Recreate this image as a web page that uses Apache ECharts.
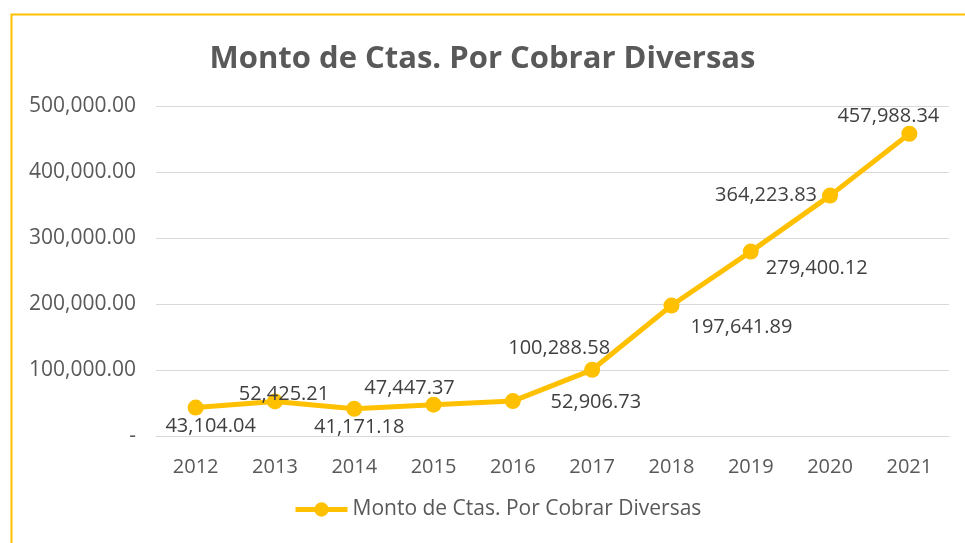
<!DOCTYPE html>
<html>
<head>
<meta charset="utf-8">
<script src="https://cdn.jsdelivr.net/npm/echarts@6/dist/echarts.min.js"></script>
<style>
    html, body { margin: 0; padding: 0; background: #fff; }
    #chart { width: 965px; height: 543px; }
</style>
</head>
<body>
<div id="chart"></div>
<script>
// data
const years = ['2012', '2013', '2014', '2015', '2016', '2017', '2018', '2019', '2020', '2021'];
const montos = [43104.04, 52425.21, 41171.18, 47447.37, 52906.73, 100288.58, 197641.89, 279400.12, 364223.83, 457988.34];
const seriesName = 'Monto de Ctas. Por Cobrar Diversas';

// where each value label sits relative to its point (Excel placed them by hand)
const labelOffsets = [[15, 19], [9, -7], [5, 18], [-24, -16], [83, 1], [-33, -22], [70, 22], [66, 17], [-64, 0], [-21, -17]];

const fmt = v => v.toLocaleString('en-US', { minimumFractionDigits: 2, maximumFractionDigits: 2 });
const FONT = 'Open Sans';

var myChart = echarts.init(document.getElementById('chart'));

myChart.setOption({
    animation: false,
    textStyle: { fontFamily: FONT },
    title: {
        text: seriesName,
        left: 'center',
        top: 39,
        textStyle: { fontSize: 31, fontWeight: 'bold', color: '#595959', fontFamily: FONT }
    },
    graphic: [{
        type: 'rect',
        left: 9, top: 12,
        shape: { width: 1000, height: 600 },
        style: { fill: 'none', stroke: '#FFC000', lineWidth: 2 },
        silent: true
    }],
    legend: {
        bottom: 18,
        left: 288,
        itemWidth: 52,
        itemHeight: 18,
        itemGap: 7,
        lineStyle: { width: 5 },
        textStyle: { fontSize: 21, color: '#595959', fontFamily: FONT },
        data: [seriesName]
    },
    grid: { left: 156, top: 106, width: 793, height: 330 },
    xAxis: {
        type: 'category',
        data: years,
        axisLine: { lineStyle: { color: '#d9d9d9', width: 1 } },
        axisTick: { show: false },
        axisLabel: { fontSize: 20, color: '#595959', margin: 21 }
    },
    yAxis: {
        type: 'value',
        min: 0, max: 500000, interval: 100000,
        axisLine: { show: false },
        axisTick: { show: false },
        splitLine: { lineStyle: { color: '#d9d9d9', width: 1 } },
        axisLabel: {
            fontSize: 21, color: '#595959', margin: 20,
            formatter: v => v === 0 ? '-' : fmt(v)
        }
    },
    series: [{
        name: seriesName,
        type: 'line',
        data: montos.map((v, i) => ({
            value: v,
            label: { offset: labelOffsets[i] }
        })),
        symbol: 'circle',
        symbolSize: 16,
        lineStyle: { color: '#FFC000', width: 5 },
        itemStyle: { color: '#FFC000' },
        label: {
            show: true,
            position: 'inside',
            align: 'center',
            verticalAlign: 'middle',
            fontSize: 20,
            color: '#404040',
            formatter: p => fmt(p.value)
        }
    }]
});
</script>
</body>
</html>
